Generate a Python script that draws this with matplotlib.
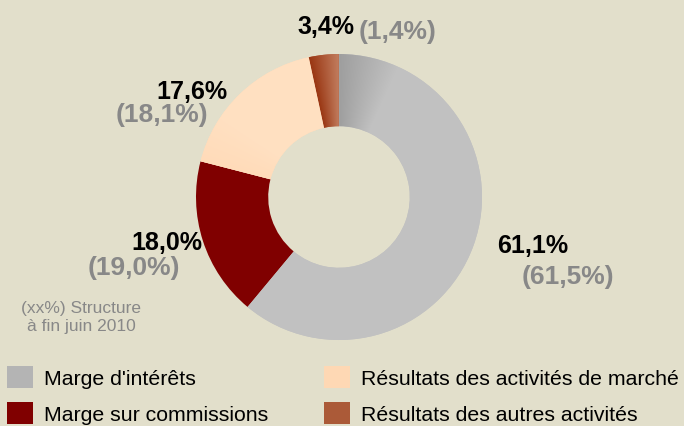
import matplotlib
matplotlib.use('Agg')
import matplotlib.pyplot as plt
from matplotlib.patches import Patch
import numpy as np

plt.rcParams['font.family'] = ['Liberation Sans', 'DejaVu Sans']

# data
categories = ["Marge d'intérêts", "Marge sur commissions",
              "Résultats des activités de marché", "Résultats des autres activités"]
share_2010 = [61.1, 18.0, 17.6, 3.4]
share_ref = [61.5, 19.0, 18.1, 1.4]
colors = ['#c2c2c2', '#800000', '#fedcbb', '#b56a4a']
legend_colors = ['#b4b4b4', '#800000', '#fed8b4', '#ab5a38']

bg = '#e2dfcb'
grey_txt = '#888888'

def fmt(v):
    return ('%.1f%%' % v).replace('.', ',')

fig = plt.figure(figsize=(6.84, 4.27), dpi=100, facecolor=bg)

# pie axes: centre (339, 198) px, radius 143 px
cx, cy, r = 339, 198, 143
ax = fig.add_axes([(cx - r) / 684, (427 - cy - r) / 427, 2 * r / 684, 2 * r / 427])
ax.set_facecolor(bg)

wedges, _ = ax.pie(share_2010, colors=colors, startangle=90, counterclock=False,
                   radius=1.0, wedgeprops=dict(width=0.505, linewidth=0))
ax.set_aspect('equal')
ax.axis('off')

# gradient shading inside some wedges
n = 400
gx, gy = np.meshgrid(np.linspace(-1, 1, n), np.linspace(1, -1, n))
theta = np.degrees(np.arctan2(gy, gx))
# clockwise distance from the 12 o'clock start
dcw = (90 - theta) % 360

# grey wedge: darker near its start edge
t = np.clip(dcw / 25.0, 0, 1)
g = 0.62 + (0.76 - 0.62) * t
img = np.dstack([g, g, g])
im = ax.imshow(img, extent=(-1, 1, -1, 1), zorder=2, interpolation='bilinear')
im.set_clip_path(wedges[0])

# last wedge: dark at its left edge, lighter towards the top
span = share_2010[3] / 100 * 360
t2 = np.clip((360 - dcw) / span, 0, 1)  # 0 at 12 o'clock, 1 at left edge
c_light = np.array([0.76, 0.49, 0.37])
c_dark = np.array([0.60, 0.21, 0.07])
img2 = c_light[None, None, :] * (1 - t2[..., None]) + c_dark[None, None, :] * t2[..., None]
im2 = ax.imshow(img2, extent=(-1, 1, -1, 1), zorder=2, interpolation='bilinear')
im2.set_clip_path(wedges[3])

# peach wedge: slight gradient
t3 = np.clip((dcw - 245) / 60.0, 0, 1)
p_a = np.array([1.0, 0.82, 0.66])
p_b = np.array([1.0, 0.88, 0.76])
img3 = p_a[None, None, :] * (1 - t3[..., None]) + p_b[None, None, :] * t3[..., None]
im3 = ax.imshow(img3, extent=(-1, 1, -1, 1), zorder=2, interpolation='bilinear')
im3.set_clip_path(wedges[2])

ax.set_xlim(-1, 1)
ax.set_ylim(-1, 1)

def px(x, y):
    return ((x - cx) / r, (cy - y) / r)

# value labels (bold black = 2010, grey in brackets = reference)
lab_pos = [
    # (black pos, ha), (grey pos, ha)
    ((497, 246), 'left', (522, 277), 'left'),
    ((202, 243), 'right', (180, 268), 'right'),
    ((227, 92), 'right', (208, 115), 'right'),
    ((354, 27), 'right', (359, 32), 'left'),
]
for i, (p1, ha1, p2, ha2) in enumerate(lab_pos):
    x1, y1 = px(*p1)
    ax.text(x1, y1, fmt(share_2010[i]), ha=ha1, va='center', fontsize=18,
            fontweight='bold', color='black', clip_on=False, zorder=5)
    x2, y2 = px(*p2)
    ax.text(x2, y2, '(' + fmt(share_ref[i]) + ')', ha=ha2, va='center', fontsize=19,
            fontweight='bold', color=grey_txt, clip_on=False, zorder=5)

fig.text(81 / 684, 1 - 317 / 427, '(xx%) Structure\nà fin juin 2010', ha='center',
         va='center', fontsize=12.5, color=grey_txt, linespacing=1.25)

# legend, two columns
handles = [Patch(facecolor=c, edgecolor='none') for c in legend_colors]
leg_kw = dict(frameon=False, fontsize=15.3, handlelength=1.2, handleheight=1.25,
              handletextpad=0.52, labelspacing=0.62, borderpad=0, borderaxespad=0,
              loc='upper left')
leg1 = fig.legend([handles[0], handles[1]], [categories[0], categories[1]],
                  bbox_to_anchor=(7 / 684, 1 - 367 / 427), **leg_kw)
leg2 = fig.legend([handles[2], handles[3]], [categories[2], categories[3]],
                  bbox_to_anchor=(324 / 684, 1 - 367 / 427), **leg_kw)

fig.savefig('out.png', dpi=100, facecolor=bg)
